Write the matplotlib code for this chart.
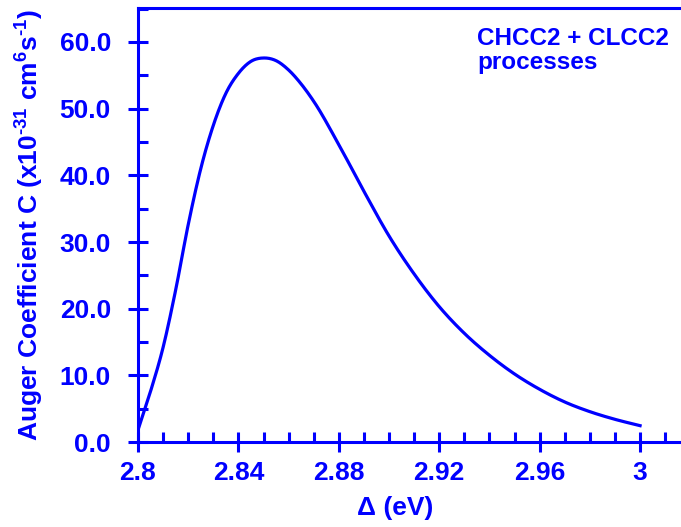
import numpy as np
import matplotlib
matplotlib.use("Agg")
import matplotlib.pyplot as plt
from matplotlib.ticker import MultipleLocator, FixedLocator

plt.rcParams['font.family'] = ['Liberation Sans', 'DejaVu Sans']
plt.rcParams['font.weight'] = 'bold'
plt.rcParams['mathtext.fontset'] = 'custom'
plt.rcParams['mathtext.rm'] = 'Liberation Sans:bold'
plt.rcParams['mathtext.it'] = 'Liberation Sans:bold'
plt.rcParams['mathtext.bf'] = 'Liberation Sans:bold'
plt.rcParams['mathtext.default'] = 'rm'

BLUE = '#0000ff'

# Auger coefficient
delta = [2.800, 2.805, 2.810, 2.815, 2.820, 2.825, 2.830, 2.835, 2.840, 2.845,
         2.850, 2.855, 2.860, 2.865, 2.870, 2.880, 2.890, 2.900, 2.910, 2.920,
         2.930, 2.940, 2.950, 2.960, 2.970, 2.980, 2.990, 3.000]
auger_c = [1.8, 7.6, 14.2, 22.8, 32.6, 41.0, 47.5, 52.3, 55.3, 57.1,
           57.6, 57.2, 55.8, 53.7, 51.1, 44.6, 37.6, 30.9, 25.2, 20.3,
           16.3, 13.0, 10.2, 7.9, 6.0, 4.55, 3.4, 2.45]

x_ticks = [2.80, 2.84, 2.88, 2.92, 2.96, 3.00]
x_ticklabels = ['2.8', '2.84', '2.88', '2.92', '2.96', '3']
y_ticks = [0, 10, 20, 30, 40, 50, 60]
y_ticklabels = ['0.0', '10.0', '20.0', '30.0', '40.0', '50.0', '60.0']


# cubic hermite through the points so the line is drawn smooth
def smooth(x, y, n=20):
    x = np.asarray(x, float)
    y = np.asarray(y, float)
    m = np.gradient(y, x)
    xs, ys = [], []
    for i in range(len(x) - 1):
        h = x[i + 1] - x[i]
        t = np.linspace(0, 1, n, endpoint=False)
        h00 = 2 * t**3 - 3 * t**2 + 1
        h10 = t**3 - 2 * t**2 + t
        h01 = -2 * t**3 + 3 * t**2
        h11 = t**3 - t**2
        xs.append(x[i] + t * h)
        ys.append(h00 * y[i] + h10 * h * m[i] + h01 * y[i + 1] + h11 * h * m[i + 1])
    xs.append([x[-1]])
    ys.append([y[-1]])
    return np.concatenate(xs), np.concatenate(ys)


fig = plt.figure(figsize=(6.81, 5.27), dpi=100)
ax = fig.add_axes([138 / 681, 85 / 527, 543 / 681, 434 / 527])

xs, ys = smooth(delta, auger_c)
ax.plot(xs, ys, color=BLUE, lw=2.3)

ax.set_xlim(2.8, 3.0163)
ax.set_ylim(0, 65.1)

ax.spines['right'].set_visible(False)
for s in ['left', 'bottom', 'top']:
    ax.spines[s].set_color(BLUE)
    ax.spines[s].set_linewidth(2.2)

ax.xaxis.set_major_locator(FixedLocator(x_ticks))
ax.set_xticklabels(x_ticklabels)
ax.xaxis.set_minor_locator(MultipleLocator(0.01))
ax.yaxis.set_major_locator(FixedLocator(y_ticks))
ax.set_yticklabels(y_ticklabels)
ax.yaxis.set_minor_locator(MultipleLocator(5))

ax.tick_params(which='major', direction='inout', length=15, width=2.2,
               color=BLUE, labelcolor=BLUE, labelsize=19)
ax.tick_params(axis='y', which='major', pad=12)
ax.tick_params(axis='x', which='major', pad=6)
ax.tick_params(which='minor', direction='in', length=7, width=2.2, color=BLUE)
ax.tick_params(top=False, right=False, which='both')

ax.set_xlabel('Δ (eV)', color=BLUE, fontsize=19, fontweight='bold')
ax.xaxis.set_label_coords(0.473, -0.125)
ax.set_ylabel('Auger Coefficient C (x10$^{\u201031}$ cm$^{6}$s$^{\u20101}$)',
              color=BLUE, fontsize=19, fontweight='bold', labelpad=10)

fig.text(477 / 681, 1 - 27 / 527, 'CHCC2 + CLCC2\nprocesses', color=BLUE,
         fontsize=17.5, fontweight='bold', ha='left', va='top', linespacing=1.05)

fig.savefig('out.png', dpi=100)
